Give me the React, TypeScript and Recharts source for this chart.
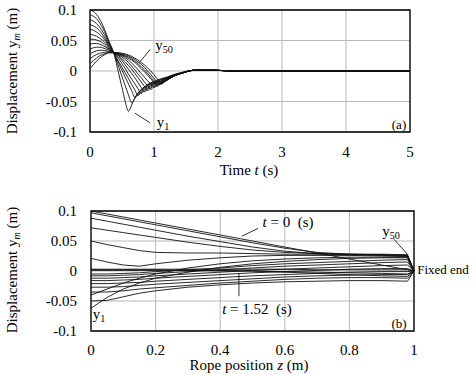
import React from 'react';
import {
  LineChart,
  Line,
  XAxis,
  YAxis,
  CartesianGrid,
  ReferenceArea,
  ReferenceLine,
} from 'recharts';

// ---- (a) displacement of rope nodes versus time ----
const timeS = [0, 0.05, 0.1, 0.15, 0.2, 0.25, 0.3, 0.37, 0.45, 0.5, 0.55, 0.6, 0.65, 0.7, 0.75, 0.8, 0.85, 0.9, 0.95, 1.0, 1.05, 1.1, 1.2, 1.3, 1.45, 1.6, 1.8, 2.0, 2.3, 2.6, 3, 5];

const y1 = [0.1, 0.098, 0.093, 0.085, 0.075, 0.062, 0.048, 0.03, -0.005, -0.027, -0.05, -0.066, -0.056, -0.044, -0.036, -0.03, -0.026, -0.022, -0.019, -0.017, -0.015, -0.013, -0.01, -0.006, -0.002, 0.001, 0.002, 0.001, 0, 0, 0, 0];
const y5 = [0.092, 0.09, 0.086, 0.079, 0.07, 0.059, 0.046, 0.03, 0.006, -0.009, -0.024, -0.039, -0.052, -0.045, -0.037, -0.031, -0.027, -0.023, -0.02, -0.018, -0.016, -0.014, -0.011, -0.007, -0.003, 0.001, 0.002, 0.001, 0, 0, 0, 0];
const y9 = [0.084, 0.082, 0.078, 0.072, 0.064, 0.055, 0.044, 0.03, 0.012, 0.001, -0.01, -0.021, -0.032, -0.043, -0.039, -0.033, -0.028, -0.024, -0.021, -0.019, -0.017, -0.015, -0.011, -0.007, -0.003, 0.001, 0.002, 0.001, 0, 0, 0, 0];
const y13 = [0.076, 0.074, 0.071, 0.066, 0.059, 0.051, 0.042, 0.03, 0.015, 0.006, -0.003, -0.012, -0.022, -0.031, -0.04, -0.035, -0.03, -0.026, -0.023, -0.02, -0.018, -0.016, -0.012, -0.008, -0.003, 0.001, 0.002, 0.001, 0, 0, 0, 0];
const y17 = [0.068, 0.067, 0.064, 0.06, 0.055, 0.048, 0.04, 0.03, 0.02, 0.012, 0.004, -0.005, -0.013, -0.021, -0.029, -0.037, -0.032, -0.028, -0.024, -0.021, -0.019, -0.017, -0.012, -0.008, -0.003, 0.001, 0.002, 0.001, 0, 0, 0, 0];
const y21 = [0.06, 0.059, 0.057, 0.054, 0.05, 0.045, 0.038, 0.03, 0.023, 0.017, 0.01, 0.003, -0.004, -0.011, -0.019, -0.027, -0.034, -0.03, -0.026, -0.022, -0.02, -0.018, -0.013, -0.008, -0.003, 0.001, 0.002, 0.001, 0, 0, 0, 0];
const y25 = [0.052, 0.052, 0.051, 0.049, 0.046, 0.042, 0.036, 0.03, 0.025, 0.02, 0.015, 0.009, 0.003, -0.004, -0.011, -0.018, -0.025, -0.032, -0.028, -0.024, -0.021, -0.019, -0.014, -0.009, -0.003, 0.001, 0.002, 0.001, 0, 0, 0, 0];
const y29 = [0.044, 0.045, 0.045, 0.044, 0.042, 0.039, 0.035, 0.03, 0.026, 0.023, 0.019, 0.014, 0.008, 0.002, -0.005, -0.011, -0.018, -0.024, -0.03, -0.026, -0.023, -0.02, -0.015, -0.009, -0.003, 0.001, 0.002, 0.001, 0, 0, 0, 0];
const y33 = [0.036, 0.038, 0.039, 0.039, 0.038, 0.036, 0.034, 0.03, 0.027, 0.025, 0.022, 0.018, 0.013, 0.008, 0.002, -0.004, -0.01, -0.016, -0.022, -0.027, -0.024, -0.021, -0.015, -0.009, -0.003, 0.001, 0.002, 0.001, 0, 0, 0, 0];
const y37 = [0.028, 0.031, 0.033, 0.034, 0.034, 0.033, 0.032, 0.03, 0.028, 0.026, 0.024, 0.021, 0.018, 0.014, 0.009, 0.004, -0.001, -0.007, -0.013, -0.019, -0.025, -0.021, -0.015, -0.009, -0.003, 0.001, 0.002, 0.001, 0, 0, 0, 0];
const y41 = [0.02, 0.024, 0.027, 0.029, 0.03, 0.031, 0.031, 0.03, 0.029, 0.027, 0.025, 0.023, 0.02, 0.016, 0.012, 0.007, 0.002, -0.004, -0.01, -0.016, -0.023, -0.02, -0.014, -0.008, -0.003, 0.001, 0.002, 0.001, 0, 0, 0, 0];
const y45 = [0.012, 0.017, 0.021, 0.025, 0.027, 0.029, 0.03, 0.03, 0.029, 0.028, 0.027, 0.025, 0.022, 0.019, 0.015, 0.011, 0.006, 0.0, -0.006, -0.012, -0.018, -0.022, -0.015, -0.008, -0.003, 0.001, 0.002, 0.001, 0, 0, 0, 0];
const y50 = [0.004, 0.01, 0.016, 0.021, 0.025, 0.028, 0.03, 0.03, 0.03, 0.029, 0.028, 0.026, 0.024, 0.021, 0.018, 0.014, 0.01, 0.005, 0.0, -0.006, -0.013, -0.02, -0.015, -0.008, -0.002, 0.001, 0.002, 0.001, 0, 0, 0, 0];

const nodeSeries = [y1, y5, y9, y13, y17, y21, y25, y29, y33, y37, y41, y45, y50];

// ---- (b) rope profiles at successive instants ----
const ropeZ = [0, 0.05, 0.1, 0.15, 0.2, 0.3, 0.4, 0.5, 0.6, 0.7, 0.8, 0.9, 0.98, 1];

const p00 = [0.1, 0.095, 0.09, 0.085, 0.08, 0.07, 0.06, 0.05, 0.04, 0.03, 0.02, 0.01, 0.002, 0];
const p01 = [0.097, 0.092, 0.087, 0.082, 0.077, 0.067, 0.057, 0.047, 0.038, 0.031, 0.028, 0.028, 0.027, 0];
const p02 = [0.088, 0.083, 0.078, 0.073, 0.068, 0.058, 0.049, 0.04, 0.033, 0.029, 0.028, 0.027, 0.026, 0];
const p03 = [0.072, 0.068, 0.064, 0.06, 0.056, 0.048, 0.041, 0.035, 0.031, 0.029, 0.028, 0.027, 0.026, 0];
const p04 = [0.05, 0.044, 0.039, 0.034, 0.031, 0.03, 0.03, 0.029, 0.028, 0.028, 0.027, 0.026, 0.025, 0];
const p05 = [0.021, 0.015, 0.01, 0.008, 0.012, 0.018, 0.022, 0.025, 0.026, 0.026, 0.026, 0.025, 0.024, 0];
const p06 = [-0.062, -0.044, -0.03, -0.02, -0.012, -0.002, 0.006, 0.012, 0.016, 0.019, 0.021, 0.022, 0.022, 0];
const p07 = [-0.04, -0.03, -0.02, -0.012, -0.005, 0.005, 0.012, 0.017, 0.02, 0.022, 0.023, 0.023, 0.023, 0];
const p08 = [-0.05, -0.049, -0.043, -0.037, -0.033, -0.027, -0.023, -0.02, -0.018, -0.017, -0.016, -0.016, -0.017, 0];
const p09 = [-0.035, -0.035, -0.033, -0.03, -0.028, -0.024, -0.02, -0.017, -0.014, -0.012, -0.011, -0.011, -0.012, 0];
const p10 = [-0.027, -0.027, -0.026, -0.024, -0.022, -0.019, -0.016, -0.013, -0.01, -0.008, -0.007, -0.006, -0.006, 0];
const p11 = [-0.021, -0.021, -0.02, -0.019, -0.017, -0.014, -0.011, -0.008, -0.006, -0.004, -0.002, -0.001, -0.001, 0];
const p12 = [-0.016, -0.016, -0.015, -0.014, -0.012, -0.009, -0.006, -0.003, -0.001, 0.001, 0.003, 0.004, 0.004, 0];
const p13 = [-0.012, -0.012, -0.011, -0.01, -0.008, -0.005, -0.002, 0.001, 0.003, 0.005, 0.007, 0.009, 0.01, 0];
const p14 = [-0.008, -0.008, -0.007, -0.006, -0.004, -0.001, 0.002, 0.005, 0.008, 0.01, 0.012, 0.014, 0.015, 0];
const p15 = [-0.005, -0.005, -0.004, -0.003, -0.001, 0.002, 0.005, 0.009, 0.012, 0.014, 0.016, 0.018, 0.019, 0];
const p16 = [0.003, 0.003, 0.003, 0.003, 0.003, 0.003, 0.003, 0.003, 0.003, 0.002, 0.002, 0.002, 0.002, 0];
const p17 = [0.001, 0.001, 0.001, 0.001, 0.001, 0.001, 0.0, 0.0, -0.001, -0.002, -0.003, -0.004, -0.005, 0];
const p18 = [0.002, 0.002, 0.002, 0.002, 0.002, 0.001, 0.001, 0.0, -0.002, -0.004, -0.006, -0.008, -0.009, 0];

const profileSeries = [p00, p01, p02, p03, p04, p05, p06, p07, p08, p09, p10, p11, p12, p13, p14, p15, p16, p17, p18];

const dispTicks = [-0.1, -0.05, 0, 0.05, 0.1];
const timeTicks = [0, 1, 2, 3, 4, 5];
const zTicks = [0, 0.2, 0.4, 0.6, 0.8, 1];

const timeRows = timeS.map((t, i) => {
  const row: Record<string, number> = { t };
  nodeSeries.forEach((s, k) => (row['n' + k] = s[i]));
  return row;
});

const zRows = ropeZ.map((z, i) => {
  const row: Record<string, number> = { z };
  profileSeries.forEach((s, k) => (row['p' + k] = s[i]));
  return row;
});

const SERIF = '"Liberation Serif"';
const tickStyle = { fontFamily: SERIF, fontSize: 15, fill: '#000' };
const GRID = '#b9b9b9';
const INK = '#111';

const textAt = (
  x: number,
  y: number,
  content: React.ReactNode,
  size = 15,
  extra: React.CSSProperties = {}
) => (
  <div
    style={{
      position: 'absolute',
      left: x,
      top: y,
      transform: 'translate(-50%, -50%)',
      fontFamily: SERIF,
      fontSize: size,
      color: '#000',
      whiteSpace: 'nowrap',
      lineHeight: 1,
      ...extra,
    }}
  >
    {content}
  </div>
);

const sub = (s: string, italic = false) => (
  <span style={{ fontSize: '0.68em', verticalAlign: '-0.3em', fontStyle: italic ? 'italic' : 'normal' }}>{s}</span>
);

const yTitle = (
  <span>
    Displacement y{sub('m', true)} (m)
  </span>
);

export default function App() {
  return (
    <div style={{ position: 'absolute', left: 0, top: 0, width: 476, height: 375, background: '#fff', fontFamily: SERIF }}>
      <div style={{ position: 'absolute', left: 0, top: 0 }}>
        <LineChart width={476} height={190} data={timeRows} margin={{ top: 10, right: 66, bottom: 28, left: 50 }}>
          <CartesianGrid stroke={GRID} strokeWidth={1} />
          <XAxis
            dataKey="t"
            type="number"
            domain={[0, 5]}
            ticks={timeTicks}
            tick={tickStyle}
            tickLine={false}
            axisLine={false}
            tickMargin={8}
            interval={0}
          />
          <YAxis
            type="number"
            domain={[-0.1, 0.1]}
            ticks={dispTicks}
            tick={tickStyle}
            tickLine={false}
            axisLine={false}
            tickMargin={7}
            width={40}
            interval={0}
          />
          {nodeSeries.map((_, k) => (
            <Line
              key={k}
              dataKey={'n' + k}
              type="monotone"
              stroke={INK}
              strokeWidth={0.9}
              dot={false}
              isAnimationActive={false}
            />
          ))}
          <ReferenceArea x1={0} x2={5} y1={-0.1} y2={0.1} fill="none" fillOpacity={0} stroke="#000" strokeWidth={1.3} ifOverflow="visible" />
          <ReferenceLine segment={[{ x: 0.94, y: 0.035 }, { x: 0.77, y: 0.014 }]} stroke="#000" strokeWidth={0.8} ifOverflow="visible" />
          <ReferenceLine segment={[{ x: 0.7, y: -0.069 }, { x: 0.94, y: -0.085 }]} stroke="#000" strokeWidth={0.8} ifOverflow="visible" />
        </LineChart>
      </div>

      <div style={{ position: 'absolute', left: 0, top: 190 }}>
        <LineChart width={476} height={185} data={zRows} margin={{ top: 21, right: 62, bottom: 14, left: 51 }}>
          <CartesianGrid stroke={GRID} strokeWidth={1} />
          <XAxis
            dataKey="z"
            type="number"
            domain={[0, 1]}
            ticks={zTicks}
            tick={tickStyle}
            tickLine={false}
            axisLine={false}
            tickMargin={7}
            interval={0}
          />
          <YAxis
            type="number"
            domain={[-0.1, 0.1]}
            ticks={dispTicks}
            tick={tickStyle}
            tickLine={false}
            axisLine={false}
            tickMargin={8}
            width={40}
            interval={0}
          />
          {profileSeries.map((_, k) => (
            <Line
              key={k}
              dataKey={'p' + k}
              type="linear"
              stroke={INK}
              strokeWidth={0.9}
              dot={false}
              isAnimationActive={false}
            />
          ))}
          <ReferenceArea x1={0} x2={1} y1={-0.1} y2={0.1} fill="none" fillOpacity={0} stroke="#000" strokeWidth={1.3} ifOverflow="visible" />
          <ReferenceLine segment={[{ x: 0.517, y: 0.071 }, { x: 0.467, y: 0.058 }]} stroke="#000" strokeWidth={0.8} ifOverflow="visible" />
          <ReferenceLine segment={[{ x: 0.458, y: -0.005 }, { x: 0.458, y: -0.042 }]} stroke="#000" strokeWidth={0.8} ifOverflow="visible" />
          <ReferenceLine segment={[{ x: 0.938, y: 0.053 }, { x: 0.981, y: 0.027 }]} stroke="#000" strokeWidth={0.8} ifOverflow="visible" />
        </LineChart>
      </div>

      {/* axis titles */}
      {textAt(14, 71, yTitle, 15, { transform: 'translate(-50%, -50%) rotate(-90deg)' })}
      {textAt(14, 270, yTitle, 15, { transform: 'translate(-50%, -50%) rotate(-90deg)' })}
      {textAt(249, 170, <span>Time <i>t</i> (s)</span>)}
      {textAt(249, 365, <span>Rope position <i>z</i> (m)</span>)}

      {/* panel (a) annotations */}
      {textAt(164, 47, <span>y{sub('50')}</span>)}
      {textAt(163, 124, <span>y{sub('1')}</span>)}
      {textAt(399, 124, '(a)', 13)}

      {/* panel (b) annotations */}
      {textAt(288, 222, <span><i>t</i> = 0 &nbsp;(s)</span>)}
      {textAt(257, 309, <span><i>t</i> = 1.52 &nbsp;(s)</span>)}
      {textAt(391, 233, <span>y{sub('50')}</span>)}
      {textAt(99, 316, <span>y{sub('1')}</span>)}
      {textAt(399, 323, '(b)', 13)}
      {textAt(443, 269, 'Fixed end', 13)}
    </div>
  );
}
